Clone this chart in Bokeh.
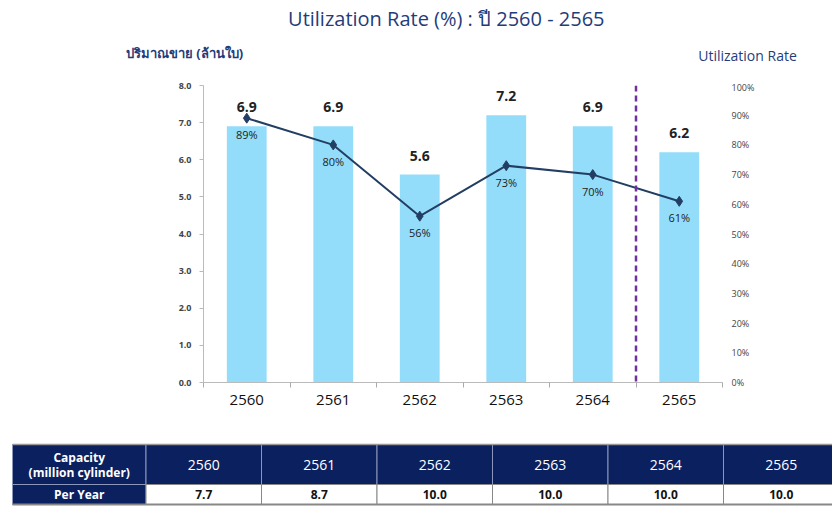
from bokeh.plotting import figure
from bokeh.models import Range1d, LinearAxis, FixedTicker, PrintfTickFormatter, Span
from bokeh.layouts import column
from bokeh.core.properties import value
from bokeh.embed import file_html
from bokeh.resources import INLINE

# ---- data ----
years = ["2560", "2561", "2562", "2563", "2564", "2565"]
sales = [6.9, 6.9, 5.6, 7.2, 6.9, 6.2]          # million cylinders sold
util = [89, 80, 56, 73, 70, 61]                 # utilization rate %
capacity = [7.7, 8.7, 10.0, 10.0, 10.0, 10.0]   # capacity per year
forecast_index = 5                              # dashed separator before 2565
title_text = "Utilization Rate (%)  : ปี  2560 - 2565"
left_title = "ปริมาณขาย (ล้านใบ)"
right_title = "Utilization Rate"

FONT = "Open Sans"
NAVY_TXT = "#1F3D7A"
W = 832


def blank(height, y_top):
    f = figure(width=W, height=height, x_range=Range1d(0, W), y_range=Range1d(y_top, 0),
               output_backend="svg", toolbar_location=None, min_border=0,
               x_axis_type=None, y_axis_type=None,
               background_fill_color="white", border_fill_color="white")
    f.outline_line_color = None
    f.xgrid.visible = False
    f.ygrid.visible = False
    f.frame_align = False
    return f


# ---- header (title + axis titles) ----
HEAD_H = 80
h = blank(HEAD_H, HEAD_H)
h.text(x=[451], y=[18], text=[title_text], text_align="center", text_baseline="middle",
       text_font=value(FONT), text_font_size="20px", text_color=NAVY_TXT)
h.text(x=[184], y=[52], text=[left_title], text_align="center",
       text_baseline="middle", text_font=value(FONT), text_font_size="13px",
       text_font_style="bold", text_color=NAVY_TXT)
h.text(x=[747], y=[55], text=[right_title], text_align="center",
       text_baseline="middle", text_font=value(FONT), text_font_size="14px",
       text_color=NAVY_TXT)

# ---- chart ----
xc = [i + 0.5 for i in range(len(years))]

p = figure(width=W, height=355, x_range=Range1d(0, 6), y_range=Range1d(0, 8),
           output_backend="svg", toolbar_location=None,
           min_border_left=203, min_border_right=110, min_border_top=5, min_border_bottom=53,
           background_fill_color="white", border_fill_color="white")
p.frame_align = False
p.outline_line_color = None
p.xgrid.visible = False
p.ygrid.visible = False

ya = p.yaxis[0]
ya.ticker = FixedTicker(ticks=list(range(0, 9)))
ya.formatter = PrintfTickFormatter(format="%.1f")
ya.major_label_text_font = FONT
ya.major_label_text_font_size = "9px"
ya.major_label_text_font_style = "bold"
ya.major_label_text_color = "#444444"
ya.axis_line_color = "#BBBBBB"
ya.major_tick_line_color = "#BBBBBB"
ya.major_tick_out = 4
ya.major_tick_in = 0
ya.minor_tick_line_color = None
ya.major_label_standoff = 8

xa = p.xaxis[0]
xa.ticker = FixedTicker(ticks=xc, minor_ticks=list(range(0, len(years) + 1)))
xa.major_label_overrides = {c: y for c, y in zip(xc, years)}
xa.major_label_text_font = FONT
xa.major_label_text_font_size = "15px"
xa.major_label_text_color = "#111111"
xa.major_tick_line_color = None
xa.minor_tick_line_color = "#AAAAAA"
xa.minor_tick_out = 5
xa.minor_tick_in = 0
xa.axis_line_color = "#BBBBBB"
xa.major_label_standoff = 6

p.extra_y_ranges = {"pct": Range1d(0, 100)}
ra = LinearAxis(y_range_name="pct", ticker=FixedTicker(ticks=list(range(0, 101, 10))),
                formatter=PrintfTickFormatter(format="%d%%"))
ra.axis_line_color = None
ra.major_tick_line_color = None
ra.minor_tick_line_color = None
ra.major_label_text_font = FONT
ra.major_label_text_font_size = "9px"
ra.major_label_text_color = "#444444"
ra.major_label_standoff = 3
p.add_layout(ra, "right")

p.vbar(x=xc, top=sales, width=0.46, fill_color="#93DDFA", line_color=None)

p.add_layout(Span(location=forecast_index, dimension="height", line_color="#7030A0",
                  line_width=2.5, line_dash="6 4"))

p.line(xc, util, y_range_name="pct", line_color="#233E63", line_width=2)
p.scatter(xc, util, y_range_name="pct", marker="diamond", size=10,
          fill_color="#233E63", line_color="#233E63")

p.text(x=xc, y=sales, text=[f"{v:.1f}" for v in sales], text_align="center",
       text_baseline="bottom", y_offset=-14, text_font=value(FONT),
       text_font_size="14px", text_font_style="bold", text_color="#222222")
p.text(x=xc, y=util, y_range_name="pct", text=[f"{v}%" for v in util],
       text_align="center", text_baseline="top", y_offset=9, text_font=value(FONT),
       text_font_size="11px", text_color="#222222")

# ---- table ----
t = blank(71, 71)
HEAD = "#0B205F"
left0, first_w, col_w = 12, 133.5, 115.5
row_top, row_mid, row_bot = 9, 49, 69
edges = [left0, left0 + first_w] + [left0 + first_w + col_w * (k + 1) for k in range(len(years))]

t.quad(left=edges[:-1], right=edges[1:], top=[row_top] * (len(edges) - 1),
       bottom=[row_mid] * (len(edges) - 1), fill_color=HEAD, line_color="#8C96B8", line_width=1)
t.quad(left=[edges[0]], right=[edges[1]], top=[row_mid], bottom=[row_bot],
       fill_color=HEAD, line_color="#8C96B8", line_width=1)
t.quad(left=edges[1:-1], right=edges[2:], top=[row_mid] * len(years),
       bottom=[row_bot] * len(years), fill_color="white", line_color="#888888", line_width=1)
t.segment(x0=[edges[0]], y0=[row_bot], x1=[edges[-1]], y1=[row_bot], line_color="#888888", line_width=2)
t.segment(x0=[edges[0]], y0=[row_top], x1=[edges[-1]], y1=[row_top], line_color="#999999", line_width=1.5)

cx0 = (edges[0] + edges[1]) / 2
cxs = [(edges[i + 1] + edges[i + 2]) / 2 for i in range(len(years))]
t.text(x=[cx0, cx0], y=[(row_top + row_mid) / 2 - 7, (row_top + row_mid) / 2 + 8],
       text=["Capacity", "(million cylinder)"], text_align="center", text_baseline="middle",
       text_font=value(FONT), text_font_size="12px", text_font_style="bold", text_color="white")
t.text(x=cxs, y=[(row_top + row_mid) / 2] * len(years), text=years, text_align="center",
       text_baseline="middle", text_font=value(FONT), text_font_size="14px", text_color="white")
t.text(x=[cx0], y=[(row_mid + row_bot) / 2], text=["Per Year"], text_align="center",
       text_baseline="middle", text_font=value(FONT), text_font_size="12px",
       text_font_style="bold", text_color="white")
t.text(x=cxs, y=[(row_mid + row_bot) / 2] * len(years), text=[f"{v:.1f}" for v in capacity],
       text_align="center", text_baseline="middle", text_font=value(FONT),
       text_font_size="12px", text_font_style="bold", text_color="#111111")

layout = column(h, p, t, spacing=0)
open("out.html", "w").write(file_html(layout, INLINE))
